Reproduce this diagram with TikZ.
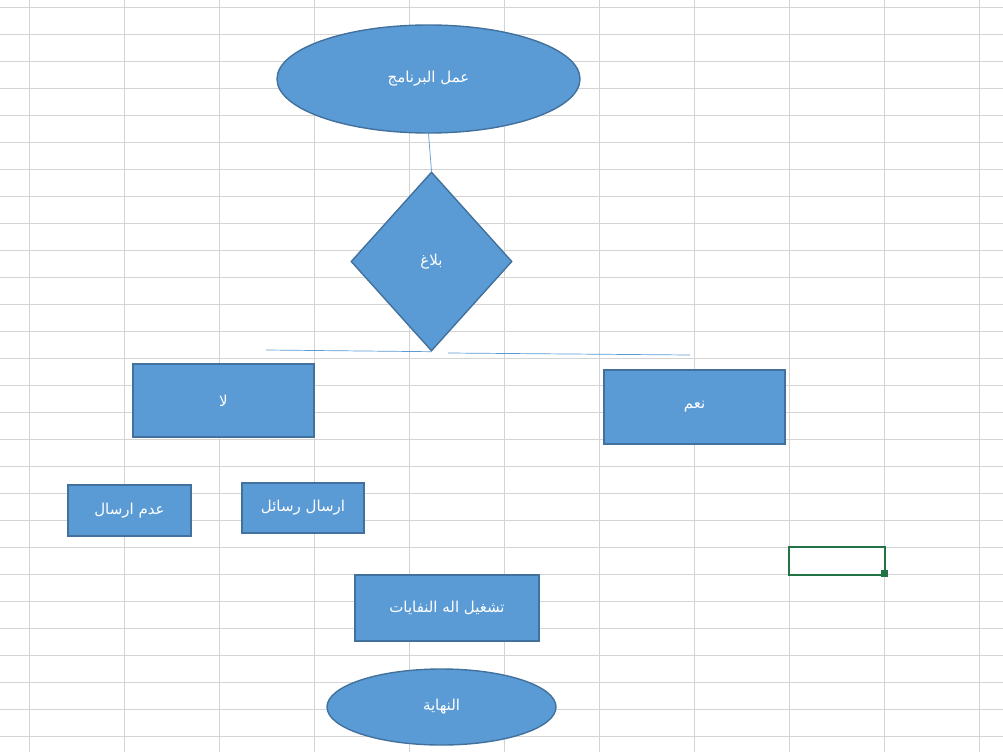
\documentclass[tikz,border=0pt]{standalone}
\usepackage{fontspec}
\usepackage{xcolor}
\usepackage{tikz}
\usetikzlibrary{shapes.geometric}
\TeXXeTstate=1
\newfontfamily\arabicfont[Script=Arabic]{DejaVu Sans}
\newcommand{\artext}[1]{{\arabicfont\fontsize{15}{17}\selectfont\beginR #1\endR}}
\definecolor{shapefill}{HTML}{5B9BD5}
\definecolor{shapeline}{HTML}{41719C}
\definecolor{gridgray}{HTML}{D4D4D4}
\definecolor{selgreen}{HTML}{217346}

\begin{document}
\begin{tikzpicture}[x=1pt,y=-1pt,
  flowshape/.style={fill=shapefill,draw=shapeline,line width=1.4pt,text=white,inner sep=0pt},
  termbox/.style={flowshape,ellipse},
  procbox/.style={flowshape,rectangle},
  decbox/.style={flowshape,diamond,aspect=0.9},
  link/.style={draw=shapefill,line width=0.7pt}]
  \useasboundingbox (0,0) rectangle (1003,752);
  \fill[white] (0,0) rectangle (1003,752);

  % sheet grid
  \foreach \i in {0,...,10}
    \draw[gridgray,line width=0.8pt] ({29.3+94.97*\i},0) -- ({29.3+94.97*\i},752);
  \foreach \j in {0,...,27}
    \draw[gridgray,line width=0.8pt] (0,{7.3+27*\j}) -- (1003,{7.3+27*\j});

  % selected cell
  \draw[selgreen,line width=2pt] (789,547) rectangle (885,575);
  \fill[selgreen] (880.5,569.5) rectangle (887.5,576.5);

  % shapes
  \node[termbox,minimum width=303pt,minimum height=108pt] (start) at (428.5,79) {\artext{عمل البرنامج}};
  \node[decbox,minimum width=161pt,minimum height=179pt] (report) at (431.5,261.5) {\artext{بلاغ}};
  \node[procbox,minimum width=181pt,minimum height=73pt] (no) at (223.5,400.5) {\artext{لا}};
  \node[procbox,minimum width=181pt,minimum height=74pt] (yes) at (694.5,407) {\artext{نعم}};
  \node[procbox,minimum width=123pt,minimum height=51pt] (nosend) at (129.5,510.5) {\artext{عدم ارسال}};
  \node[procbox,minimum width=122pt,minimum height=50pt] (send) at (303,508) {\artext{ارسال رسائل}};
  \node[procbox,minimum width=184pt,minimum height=66pt] (machine) at (447,608) {\artext{تشغيل اله النفايات}};
  \node[termbox,minimum width=229pt,minimum height=76pt] (finish) at (441.5,707) {\artext{النهاية}};

  % connectors
  \coordinate (leftend) at (266,350);
  \coordinate (rightstart) at (448,353);
  \coordinate (rightend) at (690,355);
  \draw[link] (start.south) -- (report.north);
  \draw[link] (leftend) -- (report.south);
  \draw[link] (rightstart) -- (rightend);
\end{tikzpicture}
\end{document}
